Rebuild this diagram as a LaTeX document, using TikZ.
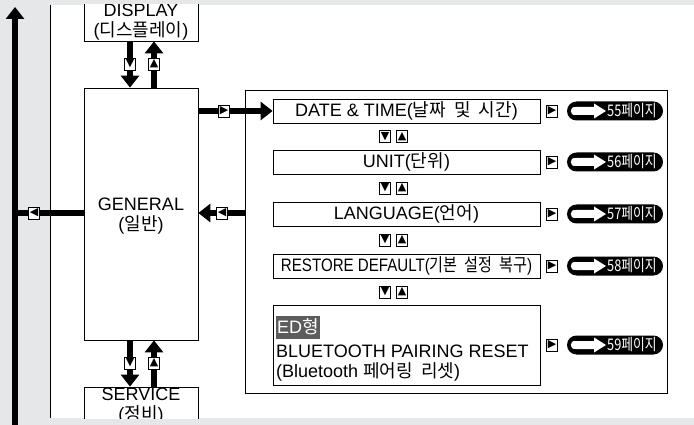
\documentclass[tikz,border=0pt]{standalone}
\usepackage{fontspec}
\usepackage{graphicx}
\setmainfont{Liberation Sans}
\newfontfamily\korfont{Noto Sans CJK KR}
\newfontfamily\trifont{DejaVu Sans}
\usetikzlibrary{arrows.meta}
\definecolor{bggray}{HTML}{E6E7E9}
\definecolor{edgray}{HTML}{5C5C5C}
\newcommand\kor[1]{{\korfont #1}}
\newcommand\ksp{\hspace{0.45em}}
\newcommand\tri[1]{\makebox[0pt]{#1}}
\tikzset{
  mainlbl/.style={font=\fontsize{18}{20}\selectfont},
  menubox/.style={draw, line width=0.8pt, minimum width=114pt, align=center, inner sep=0pt, fill=white, mainlbl},
  itembox/.style={draw, line width=0.8pt, fill=white, minimum width=267pt, minimum height=24pt, inner sep=0pt, mainlbl},
  tribox/.style={draw, line width=0.7pt, fill=white, minimum width=11pt, minimum height=12pt, inner sep=0pt, font=\trifont\fontsize{11}{11}\selectfont},
  thickarrow/.style={line width=5.5pt, -{Triangle[length=12pt,width=18pt]}},
  thickline/.style={line width=5.5pt},
  pill/.style={fill=black, rounded corners=9.5pt, minimum width=96pt, minimum height=19pt, inner sep=0pt},
  pilltext/.style={text=white, inner sep=0pt, font=\korfont\fontsize{16}{16}\selectfont},
}
\newcommand\pillrow[3]{%
  \node[tribox] (#1a) at (552,#2) {\tri{▶}};
  \node[pill] (#1p) at (615,#2) {};
  \fill[white] (576,#2-4) -- (594,#2-4) -- (594,#2-7.5) -- (606,#2) -- (594,#2+7.5) -- (594,#2+4) -- (576,#2+4) .. controls (569,#2+5) and (569,#2-5) .. (576,#2-4) -- cycle;
  \node[pilltext, anchor=west] (#1t) at (607,#2) {\scalebox{0.8}[1]{#3페이지}};
}
\begin{document}
\begin{tikzpicture}[x=1pt,y=-1pt]
\useasboundingbox (0,0) rectangle (694,425);
\fill[bggray] (0,0) rectangle (694,425);
\fill[white] (50,5) rectangle (694,418);
\draw[line width=0.9pt] (50,5) -- (50,418);

% left column boxes
\begin{scope}
\clip (50,5) rectangle (694,418);
\node[menubox, minimum height=38pt] (disp) at (141,22) {DISPLAY\\(\kor{디스플레이})};
\node[menubox, minimum height=252pt] (gen) at (141,214) {};
\node[mainlbl, align=center, inner sep=0pt] (genlbl) at (141,216) {GENERAL\\(\kor{일반})};
\node[menubox, minimum height=38pt] (serv) at (141,406) {SERVICE\\(\kor{정비})};
\end{scope}

% outer frame of the GENERAL menu
\node[draw, line width=0.9pt, minimum width=422pt, minimum height=303pt, inner sep=0pt] (outer) at (456,241.5) {};

% items
\node[itembox] (it1) at (406.5,111) {DATE \& TIME(\kor{날짜}\ksp\kor{및}\ksp\kor{시간})};
\node[itembox] (it2) at (406.5,162) {UNIT(\kor{단위})};
\node[itembox] (it3) at (406.5,214) {LANGUAGE(\kor{언어})};
\node[itembox] (it4) at (406.5,266) {\scalebox{0.84}[1]{RESTORE DEFAULT(\kor{기본}\ksp\kor{설정}\ksp\kor{복구})}};
\node[draw, line width=0.8pt, fill=white, minimum width=267pt, minimum height=80pt, inner sep=0pt] (it5) at (406.5,345) {};
\node[fill=edgray, text=white, mainlbl, inner sep=1.5pt, minimum height=23pt, anchor=west] (edtag) at (275.5,327) {ED\kor{형}};
\node[mainlbl, align=left, anchor=west, inner sep=0pt] (bt) at (276,363) {BLUETOOTH PAIRING RESET\\(Bluetooth \kor{페어링}\ksp\kor{리셋})};

% up/down markers between items
\node[tribox] (d12) at (385,136.5) {\tri{▼}};
\node[tribox] (u12) at (402,136.5) {\tri{▲}};
\node[tribox] (d23) at (385,188) {\tri{▼}};
\node[tribox] (u23) at (402,188) {\tri{▲}};
\node[tribox] (d34) at (385,240) {\tri{▼}};
\node[tribox] (u34) at (402,240) {\tri{▲}};
\node[tribox] (d45) at (385,292) {\tri{▼}};
\node[tribox] (u45) at (402,292) {\tri{▲}};

% page references
\pillrow{pa}{111}{55}
\pillrow{pb}{162}{56}
\pillrow{pc}{214}{57}
\pillrow{pd}{266}{58}
\pillrow{pe}{345}{59}

% connectors DISPLAY <-> GENERAL
\draw[thickarrow] ([xshift=-11pt]disp.south) -- ([xshift=-11pt]gen.north);
\draw[thickarrow] ([xshift=13pt]gen.north) -- ([xshift=13pt]disp.south);
\node[tribox] (t1) at (130,64) {\tri{▼}};
\node[tribox] (t2) at (154,64) {\tri{▲}};

% connectors GENERAL <-> SERVICE
\draw[thickarrow] ([xshift=-11pt]gen.south) -- ([xshift=-11pt]serv.north);
\draw[thickarrow] ([xshift=13pt]serv.north) -- ([xshift=13pt]gen.south);
\node[tribox] (t3) at (130,363) {\tri{▼}};
\node[tribox] (t4) at (154,363) {\tri{▲}};

% GENERAL -> first item
\draw[thickarrow] (gen.east |- it1.west) -- (it1.west);
\node[tribox] (t5) at (224,111) {\tri{▶}};

% back from menu to GENERAL
\coordinate (backin) at (245,213);
\draw[thickarrow] (backin) -- (gen.east |- backin);
\node[tribox] (t6) at (222,213) {\tri{◀}};

% back to left spine
\coordinate (spinej) at (15,213);
\coordinate (spinebot) at (15,430);
\coordinate (spinetop) at (15,7);
\draw[thickline] (gen.west |- spinej) -- (spinej);
\draw[thickarrow] (spinebot) -- (spinetop);
\node[tribox] (t7) at (34,213) {\tri{◀}};
\end{tikzpicture}
\end{document}
